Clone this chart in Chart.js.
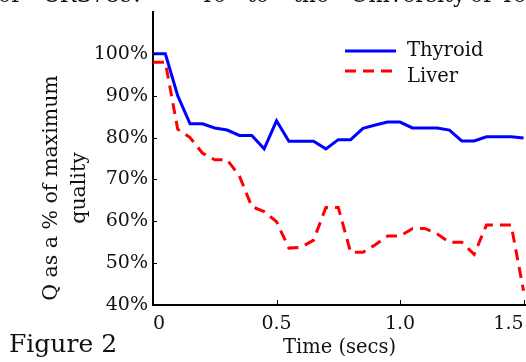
<!DOCTYPE html>
<html>
<head>
<meta charset="utf-8">
<script src="https://cdn.jsdelivr.net/npm/chart.js@4"></script>
<style>
  body { margin: 0; background: #fff; }
  #wrap { position: relative; width: 526px; height: 362px; overflow: hidden; }
  #qchart { position: absolute; left: 0; top: 0; }
  .note { position: absolute; font-family: "DejaVu Serif", serif; color: #111; white-space: nowrap; }
  .hdr { top: -16px; font-size: 22px; line-height: 22px; }
  #figlabel { left: 9px; top: 329px; font-size: 25px; }
</style>
</head>
<body>
<div id="wrap">
  <canvas id="qchart" width="526" height="362"></canvas>
  <div class="note hdr" style="left:-2px">of</div>
  <div class="note hdr" style="left:43px">CRS789.</div>
  <div class="note hdr" style="left:200px">To</div>
  <div class="note hdr" style="left:247px">to</div>
  <div class="note hdr" style="left:293px">the</div>
  <div class="note hdr" style="left:350px">University</div>
  <div class="note hdr" style="left:470px">of</div>
  <div class="note hdr" style="left:500px">Tennessee</div>
  <div class="note" id="figlabel">Figure 2</div>
</div>
<script>
// Quality over time - sampled every 0.05 s
const times = [0, 0.05, 0.1, 0.15, 0.2, 0.25, 0.3, 0.35, 0.4, 0.45, 0.5,
  0.55, 0.6, 0.65, 0.7, 0.75, 0.8, 0.85, 0.9, 0.95, 1.0,
  1.05, 1.1, 1.15, 1.2, 1.25, 1.3, 1.35, 1.4, 1.45, 1.5];
const thyroid = [100, 100, 90, 83.3, 83.3, 82.3, 81.8, 80.5, 80.5, 77.3, 84.0,
  79.1, 79.1, 79.1, 77.3, 79.5, 79.5, 82.2, 83.0, 83.7, 83.7,
  82.3, 82.3, 82.3, 81.8, 79.2, 79.2, 80.2, 80.2, 80.2, 79.9];
const liver = [98, 98, 82, 80, 76.3, 74.7, 74.7, 70.8, 63.5, 62.3, 59.9,
  53.6, 53.8, 55.5, 63.3, 63.3, 52.6, 52.6, 54.4, 56.5, 56.5,
  58.2, 58.3, 57.0, 55.0, 55.0, 52.1, 59.1, 59.1, 59.1, 43.4];
const xTicks = [0, 0.5, 1.0, 1.5];
const xTickLabels = ["0", "0.5", "1.0", "1.5"];
const yTicks = [40, 50, 60, 70, 80, 90, 100];
const yTitle = ["Q as a % of maximum", "quality"];

const serif = "'DejaVu Serif', serif";

// small tick marks pointing into the plot
const innerTicks = {
  id: "innerTicks",
  afterDraw(chart) {
    const { ctx, chartArea, scales } = chart;
    ctx.save();
    ctx.strokeStyle = "#000";
    ctx.lineWidth = 1;
    ctx.beginPath();
    scales.y.ticks.forEach(t => {
      const py = Math.round(scales.y.getPixelForValue(t.value)) + 0.5;
      ctx.moveTo(chartArea.left, py);
      ctx.lineTo(chartArea.left + 4, py);
    });
    scales.x.ticks.forEach(t => {
      const px = Math.round(scales.x.getPixelForValue(t.value)) + 0.5;
      ctx.moveTo(px, chartArea.bottom);
      ctx.lineTo(px, chartArea.bottom - 5);
    });
    ctx.stroke();
    ctx.restore();
  }
};

// rotated two-line y axis title
const sideTitle = {
  id: "sideTitle",
  afterDraw(chart, args, opts) {
    const ctx = chart.ctx;
    ctx.save();
    ctx.translate(opts.x, opts.y);
    ctx.rotate(-Math.PI / 2);
    ctx.font = opts.font;
    ctx.fillStyle = "#111";
    ctx.textAlign = "center";
    ctx.textBaseline = "middle";
    opts.lines.forEach((line, i) => ctx.fillText(line, 0, i * opts.lineHeight));
    ctx.restore();
  }
};

// legend box in the upper right of the plot
const cornerLegend = {
  id: "cornerLegend",
  afterDraw(chart, args, opts) {
    const ctx = chart.ctx;
    ctx.save();
    chart.data.datasets.forEach((ds, i) => {
      const y = opts.y + i * opts.rowGap;
      ctx.strokeStyle = ds.borderColor;
      ctx.lineWidth = ds.borderWidth;
      ctx.setLineDash(ds.borderDash || []);
      ctx.beginPath();
      ctx.moveTo(opts.x, y);
      ctx.lineTo(opts.x + opts.lineLen, y);
      ctx.stroke();
      ctx.setLineDash([]);
      ctx.font = opts.font;
      ctx.fillStyle = "#111";
      ctx.textBaseline = "middle";
      ctx.fillText(ds.label, opts.x + opts.lineLen + 11, y + (opts.textShift[i] || 0));
    });
    ctx.restore();
  }
};

// keep the plot edges fixed, no extra room for overhanging labels
const fixX = s => { s.height = 57; s.paddingLeft = 0; s.paddingRight = 0; };
const fixY = s => { s.width = 153; s.paddingTop = 0; s.paddingBottom = 0; };

new Chart(document.getElementById("qchart"), {
  type: "line",
  data: {
    datasets: [
      {
        label: "Thyroid",
        data: times.map((t, i) => ({ x: t, y: thyroid[i] })),
        borderColor: "#0000ff",
        borderWidth: 3,
        pointRadius: 0,
        tension: 0,
      },
      {
        label: "Liver",
        data: times.map((t, i) => ({ x: t, y: liver[i] })),
        borderColor: "#ff0000",
        borderWidth: 3,
        borderDash: [11, 7],
        pointRadius: 0,
        tension: 0,
      },
    ],
  },
  options: {
    responsive: false,
    animation: false,
    layout: { padding: { top: 12, right: 0, left: 0, bottom: 0 } },
    plugins: {
      legend: { display: false },
      tooltip: { enabled: false },
      sideTitle: { x: 52, y: 188, lineHeight: 28, lines: yTitle, font: "20.5px " + serif },
      cornerLegend: { x: 345, y: 51, rowGap: 20, lineLen: 51, font: "19.5px " + serif, textShift: [0, 6] },
    },
    scales: {
      x: {
        type: "linear",
        min: 0,
        max: 1.51,
        afterBuildTicks: s => { s.ticks = xTicks.map(v => ({ value: v })); },
        afterFit: fixX,
        grid: { display: false, drawTicks: false },
        border: { display: true, color: "#000", width: 2 },
        ticks: {
          padding: 8,
          color: "#111",
          font: { family: serif, size: 19 },
          maxRotation: 0,
          align: "inner",
          callback: (v, i) => xTickLabels[i],
        },
        title: {
          display: true,
          text: "Time (secs)",
          color: "#111",
          font: { family: serif, size: 19.5 },
          padding: { top: 0, bottom: 2 },
        },
      },
      y: {
        min: 40,
        max: 110,
        afterBuildTicks: s => { s.ticks = yTicks.map(v => ({ value: v })); },
        afterFit: fixY,
        grid: { display: false, drawTicks: false },
        border: { display: true, color: "#000", width: 2 },
        ticks: {
          padding: 5,
          color: "#111",
          font: { family: serif, size: 19 },
          callback: v => v + "%",
        },
      },
    },
  },
  plugins: [innerTicks, sideTitle, cornerLegend],
});
</script>
</body>
</html>
